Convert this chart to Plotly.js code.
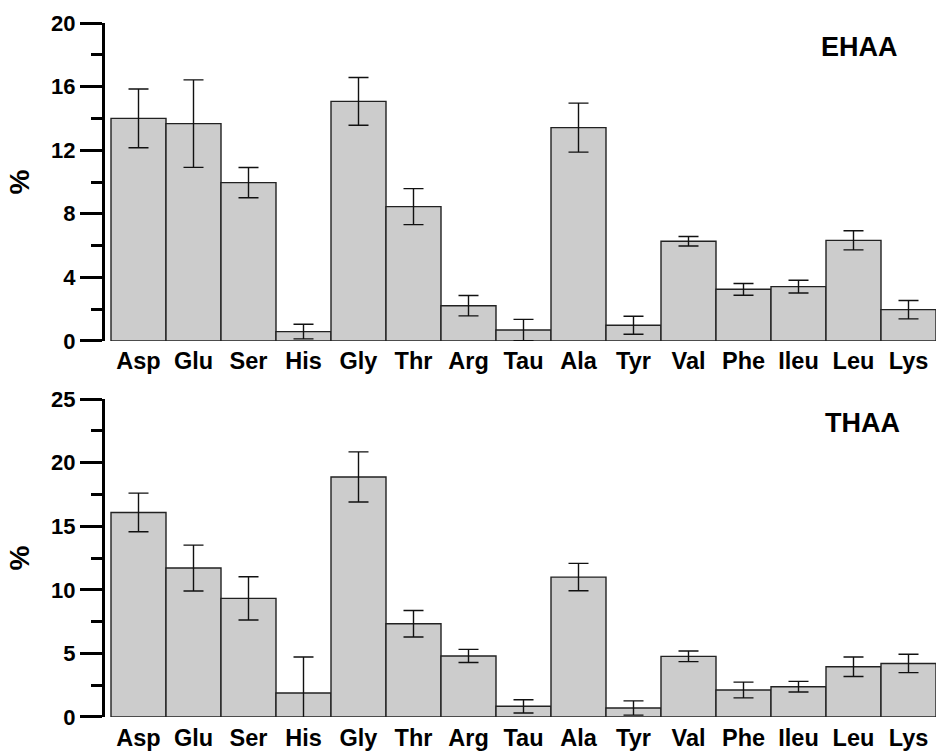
<!DOCTYPE html>
<html>
<head>
<meta charset="utf-8">
<script src="https://cdn.plot.ly/plotly-3.0.1.min.js"></script>
<style>
  html, body { margin: 0; padding: 0; background: #fff; }
  #chart { width: 937px; height: 754px; }
</style>
</head>
<body>
<div id="chart"></div>
<script>
const categories = ['Asp','Glu','Ser','His','Gly','Thr','Arg','Tau','Ala','Tyr','Val','Phe','Ileu','Leu','Lys'];
const ehaa    = [14.0, 13.67, 9.96, 0.59, 15.07, 8.45, 2.22, 0.69, 13.42, 0.99, 6.27, 3.25, 3.42, 6.33, 1.97];
const ehaaErr = [1.85, 2.75, 0.95, 0.46, 1.5, 1.13, 0.64, 0.67, 1.54, 0.57, 0.3, 0.37, 0.4, 0.6, 0.58];
const thaa    = [16.08, 11.71, 9.33, 1.89, 18.87, 7.33, 4.8, 0.84, 11.0, 0.71, 4.77, 2.12, 2.38, 3.95, 4.21];
const thaaErr = [1.52, 1.8, 1.7, 2.83, 1.97, 1.04, 0.52, 0.52, 1.08, 0.56, 0.42, 0.62, 0.42, 0.77, 0.72];
const panelLabels = ['EHAA', 'THAA'];
const yTitle = '%';

const FONT = 'Liberation Sans, Arial, Helvetica, sans-serif';
const xTickFont = {family: FONT, size: 23.5, color: '#000', weight: 'bold'};
const yTickFont = {family: FONT, size: 22, color: '#000', weight: 'bold'};

function barTrace(y, err, xa, ya) {
  return {
    type: 'bar', x: categories, y: y, xaxis: xa, yaxis: ya,
    marker: {color: '#cccccc', line: {color: '#222222', width: 1.4}},
    error_y: {type: 'data', array: err, visible: true, color: '#111111', thickness: 1.4, width: 10},
    cliponaxis: false, showlegend: false, hoverinfo: 'x+y'
  };
}

const xBase = {
  type: 'category', range: [-0.609, 14.5], showline: false, ticks: '',
  showgrid: false, zeroline: false, tickfont: xTickFont, ticklabelstandoff: 4, fixedrange: true
};
function yBase(rangeMax, dtick, minorDtick, domain) {
  return {
    domain: domain, range: [0, rangeMax], dtick: dtick, tick0: 0,
    showline: true, linewidth: 3, linecolor: '#000',
    ticks: 'outside', ticklen: 22, tickwidth: 3, tickcolor: '#000',
    minor: {ticks: 'outside', ticklen: 11, tickwidth: 3, tickcolor: '#000', dtick: minorDtick, showgrid: false},
    showgrid: false, zeroline: false, tickfont: yTickFont,
    title: {text: yTitle, font: {family: FONT, size: 28, color: '#000', weight: 'bold'}, standoff: 14},
    fixedrange: true
  };
}

const data = [
  barTrace(ehaa, ehaaErr, 'x', 'y'),
  barTrace(thaa, thaaErr, 'x2', 'y2')
];

const layout = {
  width: 937, height: 754,
  margin: {l: 105, r: 1, t: 23, b: 37},
  paper_bgcolor: '#fff', plot_bgcolor: '#fff',
  bargap: 0,
  xaxis: Object.assign({anchor: 'y', domain: [0, 1]}, xBase),
  xaxis2: Object.assign({anchor: 'y2', domain: [0, 1]}, xBase),
  yaxis: Object.assign({anchor: 'x'}, yBase(20, 4, 2, [0.5418, 1])),
  yaxis2: Object.assign({anchor: 'x2'}, yBase(25, 5, 2.5, [0, 0.4582])),
  annotations: [
    {text: panelLabels[0], xref: 'paper', yref: 'paper', x: 0.9085, y: 0.9654, showarrow: false,
     xanchor: 'center', yanchor: 'middle', font: {family: FONT, size: 27, color: '#000', weight: 'bold'}},
    {text: panelLabels[1], xref: 'paper', yref: 'paper', x: 0.911, y: 0.4236, showarrow: false,
     xanchor: 'center', yanchor: 'middle', font: {family: FONT, size: 27, color: '#000', weight: 'bold'}}
  ]
};

Plotly.newPlot('chart', data, layout, {displayModeBar: false, staticPlot: true});
</script>
</body>
</html>
